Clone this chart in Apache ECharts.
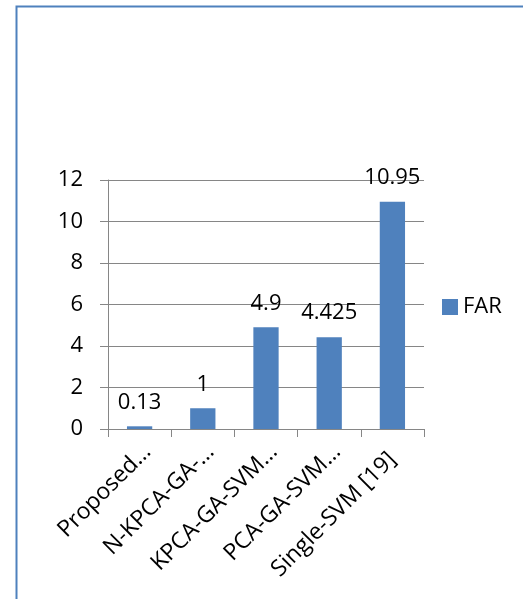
<!DOCTYPE html>
<html><head><meta charset="utf-8">
<script src="https://cdn.jsdelivr.net/npm/echarts@6/dist/echarts.min.js"></script>
<style>html,body{margin:0;padding:0;background:#fff}#c{width:523px;height:599px}</style>
</head><body><div id="c"></div>
<script>
const categories = ["Proposed…", "N-KPCA-GA-…", "KPCA-GA-SVM…", "PCA-GA-SVM…", "Single-SVM [19]"];
const farValues = [0.13, 1, 4.9, 4.425, 10.95];
const seriesName = "FAR";
const yTicks = [0, 2, 4, 6, 8, 10, 12];

const font = "Open Sans";
const categoryData = categories.map(c => c.endsWith('…')
  ? {value: c, textStyle: {padding: [0, -11, 0, 0]}}
  : c);
const chart = echarts.init(document.getElementById('c'), null, {renderer: 'canvas'});
chart.setOption({
  animation: false,
  backgroundColor: '#fff',
  graphic: [{
    type: 'rect', left: 14, top: 4,
    shape: {width: 540, height: 620},
    style: {fill: 'none', stroke: '#4f81bd', lineWidth: 2}
  }],
  legend: {
    data: [seriesName], left: 437, top: 291, orient: 'vertical',
    itemWidth: 16, itemHeight: 16, itemGap: 6,
    textStyle: {fontFamily: font, fontSize: 22, color: '#000'},
    icon: 'rect'
  },
  grid: {left: 108, top: 180, right: 99, bottom: 170, containLabel: false},
  xAxis: {
    type: 'category', data: categoryData,
    axisLine: {lineStyle: {color: '#868686', width: 1}},
    axisTick: {show: true, length: 8, lineStyle: {color: '#868686'}},
    axisLabel: {rotate: 45, interval: 0, fontFamily: font, fontSize: 23, color: '#000', margin: 27}
  },
  yAxis: {
    type: 'value', min: yTicks[0], max: yTicks[yTicks.length-1], interval: 2,
    axisLine: {show: true, lineStyle: {color: '#868686', width: 1}},
    axisTick: {show: true, length: 8, lineStyle: {color: '#868686'}},
    splitLine: {lineStyle: {color: '#868686', width: 1}},
    axisLabel: {fontFamily: font, fontSize: 22, color: '#000', margin: 25}
  },
  series: [{
    name: seriesName, type: 'bar', data: farValues,
    barWidth: '40%',
    itemStyle: {color: '#4f81bd'},
    label: {show: true, position: 'top', distance: 13, fontFamily: font, fontSize: 22, color: '#000'}
  }]
});
</script></body></html>
